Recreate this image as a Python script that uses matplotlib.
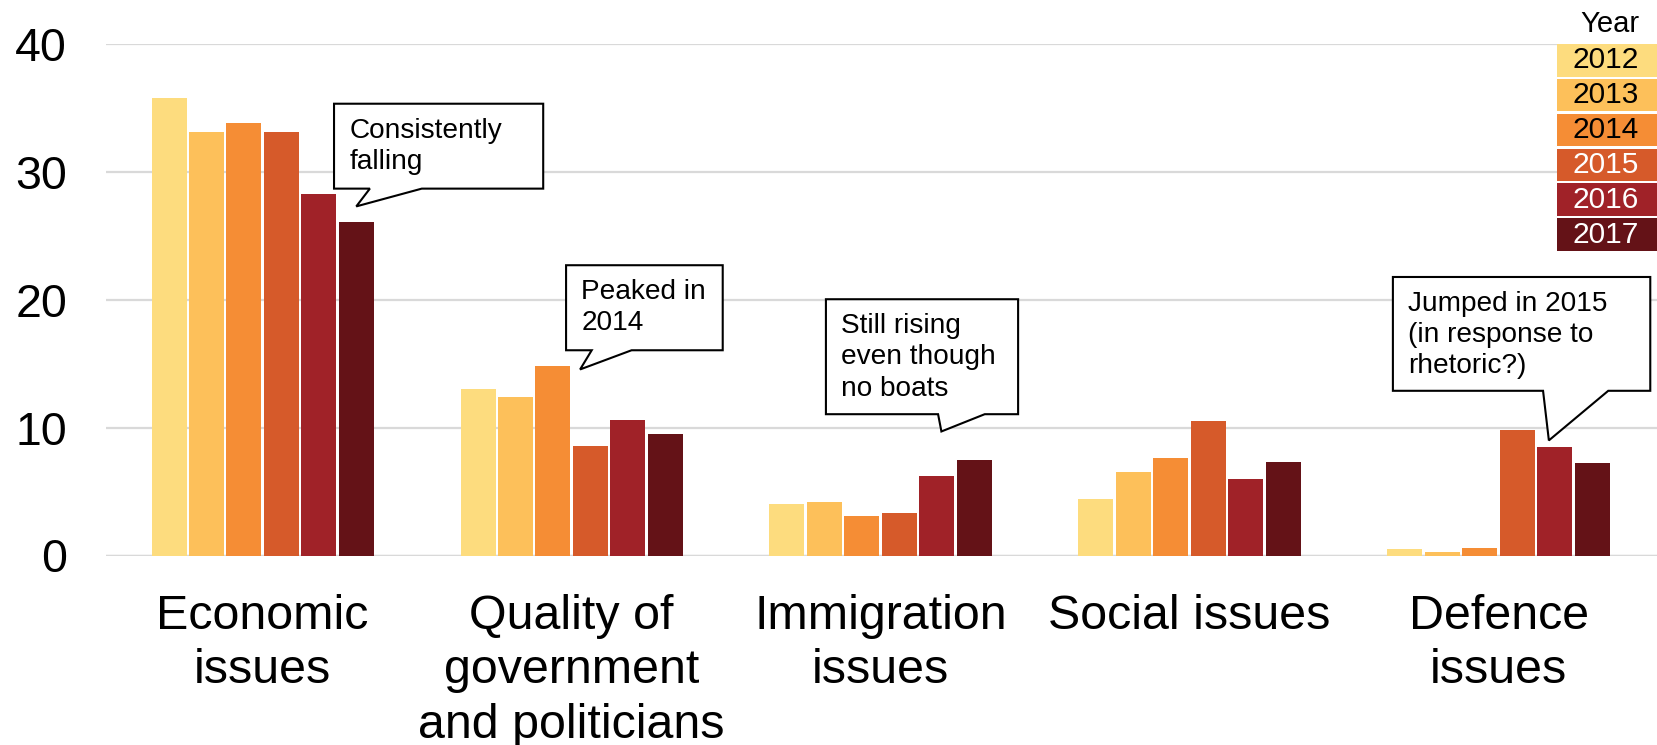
import numpy as np
import matplotlib.pyplot as plt
from matplotlib.patches import Polygon, Rectangle

plt.rcParams['font.family'] = ['Liberation Sans', 'DejaVu Sans']

# issue categories and survey years
categories = ["Economic\nissues", "Quality of\ngovernment\nand politicians",
              "Immigration\nissues", "Social issues", "Defence\nissues"]
years = ["2012", "2013", "2014", "2015", "2016", "2017"]

# per cent naming each issue, one list per category (2012..2017)
economic = [35.8, 33.1, 33.8, 33.1, 28.3, 26.1]
quality = [13.0, 12.4, 14.8, 8.6, 10.6, 9.5]
immigration = [4.0, 4.2, 3.1, 3.3, 6.2, 7.5]
social = [4.4, 6.5, 7.6, 10.5, 6.0, 7.3]
defence = [0.5, 0.3, 0.6, 9.8, 8.5, 7.2]

yticks = [0, 10, 20, 30, 40]

colors = ["#fddc7e", "#fdc05a", "#f58d35", "#d65a2a", "#a02228", "#641217"]
text_colors = ["black", "black", "black", "white", "white", "white"]

W, H = 1658, 745
fig = plt.figure(figsize=(W / 100, H / 100), dpi=100)
ax = fig.add_axes([106 / W, 189.5 / H, 1 - 106 / W, 511.5 / H])

values = np.array([economic, quality, immigration, social, defence])
x = np.arange(len(categories))
slot = 0.1212
for j, yr in enumerate(years):
    ax.bar(x + (j - 2.5) * slot, values[:, j], width=slot * 0.935,
           color=colors[j], edgecolor="none", zorder=3)

ax.set_xlim(-0.507, 4.516)
ax.set_ylim(0, 40)
ax.set_yticks(yticks)
ax.set_yticklabels([str(t) for t in yticks])
ax.set_xticks(x)
ax.set_xticklabels(categories, linespacing=1.26)
ax.tick_params(axis="y", length=0, pad=28, labelsize=33.5)
ax.tick_params(axis="x", length=0, pad=28, labelsize=34.8)
ax.grid(axis="y", color="#d9d9d9", linewidth=1.6, zorder=0)
ax.axhline(0, color="#d9d9d9", linewidth=2.4, zorder=2)
for s in ax.spines.values():
    s.set_visible(False)


def callout(text, x0, x1, y0, y1, b0, b1, tip):
    # speech bubble: box with a tail pointing at a bar
    verts = [(x0, y1), (x1, y1), (x1, y0), (b1, y0), tip, (b0, y0), (x0, y0)]
    ax.add_patch(Polygon(verts, closed=True, facecolor="white", edgecolor="black",
                         linewidth=1.5, zorder=5, clip_on=False))
    ax.annotate(text, xy=(x0, y1), xytext=(11, -10), textcoords="offset points",
                ha="left", va="top", fontsize=20.2, linespacing=1.26, zorder=6)


def bar_x(cat, yr):
    return x[cat] + (yr - 2.5) * slot


callout("Consistently\nfalling", 0.231, 0.908, 28.69, 35.33, 0.347, 0.515,
        (bar_x(0, 5), economic[5] + 1.2))
callout("Peaked in\n2014", 0.982, 1.489, 16.05, 22.7, 1.065, 1.194,
        (bar_x(1, 2) + 0.088, quality[2] - 0.25))
callout("Still rising\neven though\nno boats", 1.823, 2.445, 11.05, 20.04, 2.186, 2.337,
        (bar_x(2, 4) + 0.015, immigration[4] + 3.5))
callout("Jumped in 2015\n(in response to\nrhetoric?)", 3.658, 4.491, 12.88, 21.78, 4.144, 4.355,
        (bar_x(4, 4) - 0.019, defence[4] + 0.5))

# year legend: stacked coloured boxes in the top right corner
fig.text(1610 / W, 1 - 23.5 / H, "Year", ha="center", va="center", fontsize=21)
for i, yr in enumerate(years):
    top = 44 + i * 34.85
    fig.add_artist(Rectangle((1556.7 / W, 1 - (top + 32.5) / H), (W - 1556.7) / W, 32.5 / H,
                             transform=fig.transFigure, facecolor=colors[i],
                             edgecolor="none", zorder=4))
    fig.text(1606 / W, 1 - (top + 16.5) / H, yr, ha="center", va="center",
             fontsize=21.5, color=text_colors[i], zorder=5)

fig.savefig("out.png", dpi=100)
